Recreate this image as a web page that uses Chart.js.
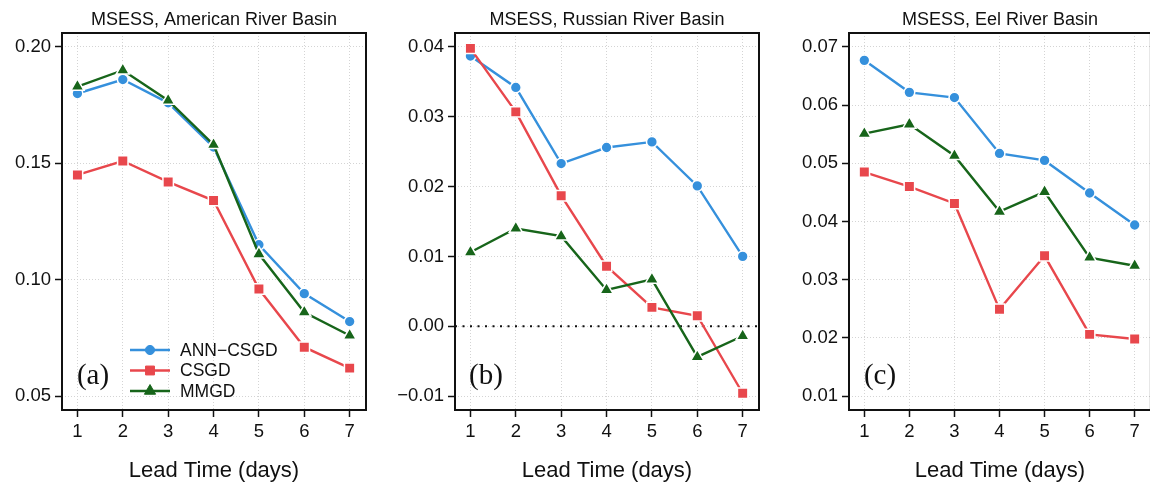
<!DOCTYPE html>
<html><head><meta charset="utf-8">
<script src="https://cdn.jsdelivr.net/npm/chart.js@4.4.1/dist/chart.umd.min.js"></script>
<style>
html,body{margin:0;padding:0;background:#fff;overflow:hidden;width:1150px;height:492px;}
.panel{position:absolute;top:0;height:492px;}
canvas{display:block;}
</style></head><body>
<div class="panel" style="left:0;width:380px"><canvas id="cA" width="380" height="492"></canvas></div>
<div class="panel" style="left:380px;width:390px"><canvas id="cB" width="390" height="492"></canvas></div>
<div class="panel" style="left:760px;width:400px"><canvas id="cC" width="400" height="492"></canvas></div>
<script>
// ---- data ----
const leadTimes = [1, 2, 3, 4, 5, 6, 7];
const seriesNames = ['ANN\u2212CSGD', 'CSGD', 'MMGD'];
const americanAnn  = [0.180, 0.186, 0.176, 0.157, 0.115, 0.094, 0.082];
const americanCsgd = [0.145, 0.151, 0.142, 0.134, 0.096, 0.071, 0.062];
const americanMmgd = [0.183, 0.190, 0.177, 0.158, 0.111, 0.086, 0.076];
const russianAnn   = [0.0387, 0.0342, 0.0233, 0.0256, 0.0264, 0.0201, 0.0100];
const russianCsgd  = [0.0398, 0.0307, 0.0187, 0.0086, 0.0027, 0.0015, -0.0096];
const russianMmgd  = [0.0106, 0.0140, 0.0129, 0.0052, 0.0067, -0.0044, -0.0014];
const eelAnn       = [0.0677, 0.0622, 0.0613, 0.0517, 0.0505, 0.0449, 0.0394];
const eelCsgd      = [0.0485, 0.0460, 0.0431, 0.0249, 0.0341, 0.0206, 0.0198];
const eelMmgd      = [0.0551, 0.0567, 0.0513, 0.0417, 0.0451, 0.0338, 0.0324];
const americanTicks = [0.05, 0.10, 0.15, 0.20];
const russianTicks  = [-0.01, 0.00, 0.01, 0.02, 0.03, 0.04];
const eelTicks      = [0.01, 0.02, 0.03, 0.04, 0.05, 0.06, 0.07];
const panelTitles = ['MSESS, American River Basin', 'MSESS, Russian River Basin', 'MSESS, Eel River Basin'];
const panelLabels = ['(a)', '(b)', '(c)'];
const xAxisTitle = 'Lead Time (days)';

// ---- styles ----
const BLUE = '#3590dc', RED = '#e8474c', GREEN = '#17651a', INK = '#111111';
const SANS = '"Liberation Sans", Arial, Helvetica, sans-serif';
const SERIF = '"Liberation Serif", "Times New Roman", serif';

function fmtY(v) {
  const s = Math.abs(v).toFixed(2);
  return v < -1e-9 ? '\u2212' + s : s;
}

function makeDatasets(ann, csgd, mmgd) {
  const common = {borderWidth: 2.4, pointBorderColor: '#ffffff', pointBorderWidth: 1.5, tension: 0, fill: false};
  return [
    Object.assign({label: seriesNames[0], data: leadTimes.map((x, i) => ({x: x, y: ann[i]})),
      borderColor: BLUE, pointBackgroundColor: BLUE, pointStyle: 'circle', pointRadius: 5.4, order: 3}, common),
    Object.assign({label: seriesNames[1], data: leadTimes.map((x, i) => ({x: x, y: csgd[i]})),
      borderColor: RED, pointBackgroundColor: RED, pointStyle: 'rect', pointRadius: 7.4, order: 2}, common),
    Object.assign({label: seriesNames[2], data: leadTimes.map((x, i) => ({x: x, y: mmgd[i]})),
      borderColor: GREEN, pointBackgroundColor: GREEN, pointStyle: 'triangle', pointRadius: 7.6, order: 1}, common)
  ];
}

const framePlugin = {
  id: 'frame',
  afterDraw(chart) {
    const a = chart.chartArea, ctx = chart.ctx;
    ctx.save();
    ctx.strokeStyle = INK; ctx.lineWidth = 2;
    ctx.strokeRect(a.left, a.top, a.right - a.left, a.bottom - a.top);
    ctx.restore();
  }
};

const refLinePlugin = {
  id: 'refLine',
  beforeDatasetsDraw(chart, args, opts) {
    if (opts.value === undefined || opts.value === null) return;
    const a = chart.chartArea, ctx = chart.ctx;
    const y = chart.scales.y.getPixelForValue(opts.value);
    ctx.save();
    ctx.strokeStyle = INK; ctx.lineWidth = 2; ctx.setLineDash([2, 5.5]);
    ctx.beginPath(); ctx.moveTo(a.left, y); ctx.lineTo(a.right, y); ctx.stroke();
    ctx.restore();
  }
};

const panelLabelPlugin = {
  id: 'panelLabel',
  afterDatasetsDraw(chart, args, opts) {
    if (!opts.text) return;
    const a = chart.chartArea, ctx = chart.ctx;
    ctx.save();
    ctx.fillStyle = INK; ctx.font = '29px ' + SERIF;
    ctx.textAlign = 'center'; ctx.textBaseline = 'middle';
    ctx.fillText(opts.text, a.left + 31, a.bottom - 34);
    ctx.restore();
  }
};

const innerLegendPlugin = {
  id: 'innerLegend',
  afterDatasetsDraw(chart, args, opts) {
    if (!opts.show) return;
    const ctx = chart.ctx;
    chart.data.datasets.forEach((ds, i) => {
      const y = opts.y0 + i * opts.dy;
      ctx.save();
      ctx.strokeStyle = ds.borderColor; ctx.lineWidth = 2.4;
      ctx.beginPath(); ctx.moveTo(opts.x0, y); ctx.lineTo(opts.x1, y); ctx.stroke();
      ctx.fillStyle = ds.pointBackgroundColor; ctx.strokeStyle = ds.pointBackgroundColor; ctx.lineWidth = 1;
      Chart.helpers.drawPoint(ctx, {pointStyle: ds.pointStyle, radius: ds.pointRadius * 0.85, rotation: 0, borderWidth: 1},
        (opts.x0 + opts.x1) / 2, y);
      ctx.fillStyle = INK; ctx.font = '17.5px ' + SANS;
      ctx.textAlign = 'left'; ctx.textBaseline = 'middle';
      ctx.fillText(ds.label, opts.tx, y + 1);
      ctx.restore();
    });
  }
};

function gridOpts() {
  return {color: '#d4d4d4', lineWidth: 1, tickColor: INK, tickLength: 7, tickWidth: 1.5, tickBorderDash: []};
}

function makeChart(id, idx, ann, csgd, mmgd, yTicks, yMin, yMax, chartLeft, padRight, extra) {
  return new Chart(document.getElementById(id), {
    type: 'line',
    data: {datasets: makeDatasets(ann, csgd, mmgd)},
    plugins: [refLinePlugin, panelLabelPlugin, innerLegendPlugin, framePlugin],
    options: {
      responsive: false, animation: false, events: [],
      layout: {padding: {left: 0, right: padRight, top: 0, bottom: 0}},
      scales: {
        x: {
          type: 'linear', min: 0.66, max: 7.36,
          afterBuildTicks: s => { s.ticks = leadTimes.map(v => ({value: v})); },
          afterFit: s => { s.height = 82; },
          ticks: {callback: v => String(v), font: {family: SANS, size: 18.5}, color: INK, padding: 4, maxRotation: 0, autoSkip: false},
          grid: gridOpts(),
          border: {display: false, dash: [1, 2]},
          title: {display: true, text: xAxisTitle, color: INK, font: {family: SANS, size: 22}, padding: {top: 4, bottom: 8}}
        },
        y: {
          type: 'linear', min: yMin, max: yMax,
          afterBuildTicks: s => { s.ticks = yTicks.map(v => ({value: v})); },
          afterFit: s => { s.width = chartLeft; },
          ticks: {callback: v => fmtY(v), font: {family: SANS, size: 18.5}, color: INK, padding: 4},
          grid: gridOpts(),
          border: {display: false, dash: [1, 2]}
        }
      },
      plugins: {
        legend: {display: false},
        tooltip: {enabled: false},
        title: {display: true, text: panelTitles[idx], fullSize: false, color: INK,
          font: {family: SANS, size: 18, weight: 'normal'}, padding: {top: 9, bottom: 2.4}},
        refLine: {value: extra.refLine},
        panelLabel: {text: panelLabels[idx]},
        innerLegend: extra.legend || {show: false}
      }
    }
  });
}

makeChart('cA', 0, americanAnn, americanCsgd, americanMmgd, americanTicks, 0.044, 0.206, 62, 14,
  {legend: {show: true, x0: 130, x1: 170, tx: 180, y0: 350, dy: 20.5}});
makeChart('cB', 1, russianAnn, russianCsgd, russianMmgd, russianTicks, -0.012, 0.042, 75, 11,
  {refLine: 0});
makeChart('cC', 2, eelAnn, eelCsgd, eelMmgd, eelTicks, 0.0076, 0.0724, 89, 7, {});
</script>
</body></html>
